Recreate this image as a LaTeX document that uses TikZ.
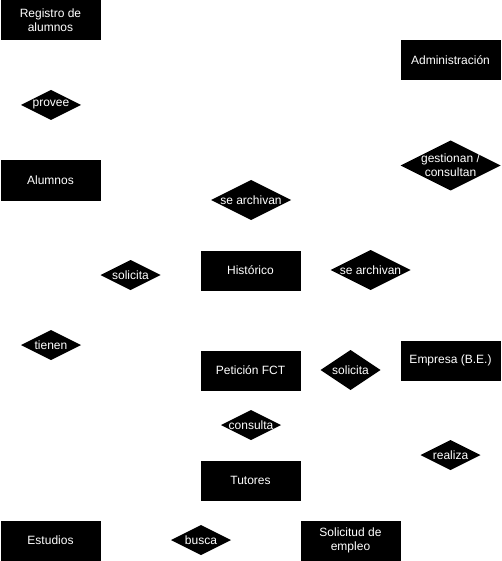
\documentclass[tikz,border=0pt]{standalone}
\usepackage{fontspec}
\setmainfont{Liberation Sans}
\begin{document}
\begin{tikzpicture}[x=1pt,y=-1pt,
  every node/.style={font=\fontsize{12}{14}\selectfont, text=white, align=center},
  ent/.style={rectangle, fill=black, inner sep=0pt, minimum width=100pt, minimum height=40pt},
  rel/.style n args={2}{rectangle, inner sep=0pt, minimum width=#1pt, minimum height=#2pt,
    path picture={\fill[black] (path picture bounding box.north) -- (path picture bounding box.east)
      -- (path picture bounding box.south) -- (path picture bounding box.west) -- cycle;}}]
\useasboundingbox (0,0) rectangle (501,561);
% entities
\node[ent] (registro) at (50.5,20.5) {Registro de\\alumnos};
\node[ent] (admin) at (450.5,60.5) {Administración};
\node[ent] (alumnos) at (50.5,180.5) {Alumnos};
\node[ent] (historico) at (250.5,270.5) {Histórico};
\node[ent] (peticion) at (250.5,370.5) {Petición FCT};
\node[ent] (empresa) at (450.5,360.5) {Empresa (B.E.)};
\node[ent] (tutores) at (250.5,480.5) {Tutores};
\node[ent] (estudios) at (50.5,540.5) {Estudios};
\node[ent] (solempleo) at (350.5,540.5) {Solicitud de\\empleo};
% relations
\node[rel={60}{30}] (provee) at (51,105) {provee};
\node[rel={100}{50}] (gestionan) at (450.5,165.5) {gestionan /\\consultan};
\node[rel={80}{40}] (archivan1) at (251,200) {se archivan};
\node[rel={60}{30}] (solicita1) at (130.5,275) {solicita};
\node[rel={80}{40}] (archivan2) at (370.5,270) {se archivan};
\node[rel={60}{30}] (tienen) at (51,345) {tienen};
\node[rel={60}{40}] (solicita2) at (350.5,370) {solicita};
\node[rel={60}{30}] (consulta) at (251,425) {consulta};
\node[rel={60}{30}] (realiza) at (450.5,455) {realiza};
\node[rel={60}{30}] (busca) at (201,540) {busca};
\end{tikzpicture}
\end{document}
